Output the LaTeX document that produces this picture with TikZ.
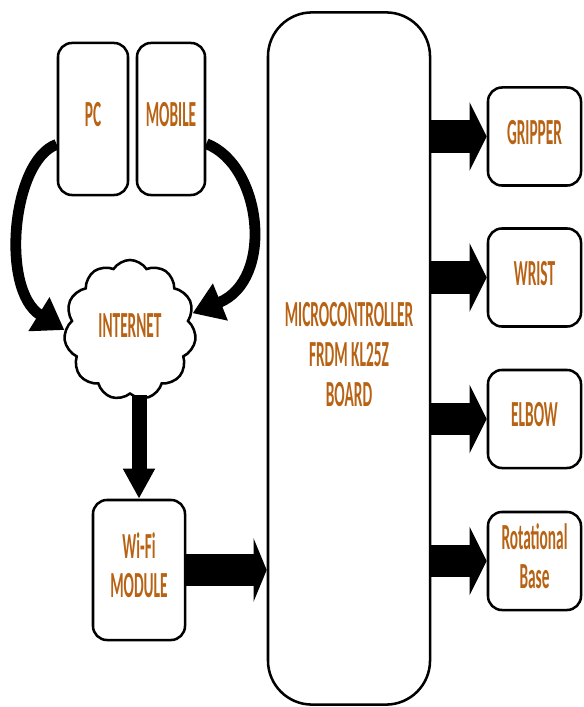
\documentclass[tikz,border=0pt]{standalone}
\usepackage{fontspec}
\setmainfont{Carlito}
\usepackage{graphicx}
\usepackage{xcolor}
\usetikzlibrary{shapes.symbols, arrows.meta, positioning}
\definecolor{lbltxt}{RGB}{184,98,20}
\newcommand{\lbl}[1]{\scalebox{1}[2.4]{\begin{tabular}{@{}c@{}}#1\end{tabular}}}

\begin{document}
\begin{tikzpicture}[x=0.025cm, y=-0.025cm,
  box/.style={draw, line width=1.8pt, rounded corners=0.35cm, fill=white, text=lbltxt,
    font=\fontsize{10.9}{11.8}\selectfont\bfseries},
  outbox/.style={box, minimum width=2.325cm, minimum height=2.45cm},
  curvearrow/.style={line width=0.27cm, -{Triangle[length=0.75cm, width=0.95cm]}},
  fatarrow/.style={line width=0.8cm, -{Triangle[length=0.43cm, width=1.7cm]}}]
\useasboundingbox (0,0) rectangle (583,707);
% sources
\node [box, minimum width=1.75cm, minimum height=3.8cm] (pc) at (93,119) {\lbl{PC}};
\node [box, minimum width=1.7cm, minimum height=3.8cm] (mobile) at (171,119) {\lbl{MOBILE}};
\node [box, cloud, cloud puffs=11, cloud puff arc=115, cloud ignores aspect,
  minimum width=3.3cm, minimum height=3.5cm, rounded corners=0pt] (internet) at (130,330) {\lbl{INTERNET}};
\node [box, minimum width=2.3cm, minimum height=3.5cm] (wifi) at (139,570) {\lbl{Wi-Fi\\MODULE}};
% controller
\node [box, rounded corners=1.1cm, minimum width=4.05cm, minimum height=17.3cm] (mcu) at (349,358.5)
  {\lbl{MICROCONTROLLER\\FRDM KL25Z\\BOARD}};
% outputs
\node [outbox] (gripper) at (534.5,136.5) {\lbl{GRIPPER}};
\node [outbox] (wrist) at (534.5,277.5) {\lbl{WRIST}};
\node [outbox] (elbow) at (534.5,419) {\lbl{ELBOW}};
\node [outbox] (rotbase) at (534.5,561) {\lbl{Rotational\\Base}};
% arrows
\draw [curvearrow] (pc.215) .. controls (12,160) and (0,290) .. (internet.west);
\draw [curvearrow] (mobile.-35) .. controls (262,165) and (275,280) .. (internet.15);
\draw [line width=0.375cm, -{Triangle[length=0.75cm, width=0.75cm]}] (wifi.north |- internet.south) -- (wifi.north);
\draw [line width=0.8cm, -{Triangle[length=0.33cm, width=1.58cm]}] (wifi.east) -- (wifi.east -| mcu.west);
\draw [fatarrow] (mcu.east |- gripper.west) -- (gripper.west);
\draw [fatarrow] (mcu.east |- wrist.west) -- (wrist.west);
\draw [fatarrow] (mcu.east |- elbow.west) -- (elbow.west);
\draw [fatarrow] (mcu.east |- rotbase.west) -- (rotbase.west);
\end{tikzpicture}
\end{document}
